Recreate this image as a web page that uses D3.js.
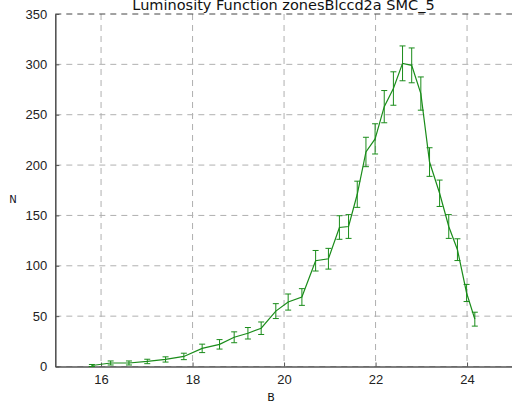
<!DOCTYPE html>
<html>
<head>
<meta charset="utf-8">
<script src="https://cdn.jsdelivr.net/npm/d3@7"></script>
<style>
  body { margin: 0; background: #fff; }
  svg { font-family: "DejaVu Sans", sans-serif; }
</style>
</head>
<body>
<div id="chart"></div>
<script>
// magnitude bins
var mags = [15.80, 16.21, 16.61, 17.01, 17.41, 17.81, 18.21, 18.59, 18.91, 19.21,
            19.50, 19.82, 20.09, 20.39, 20.69, 20.97, 21.21, 21.41, 21.60, 21.79,
            21.99, 22.19, 22.39, 22.59, 22.79, 22.99, 23.18, 23.40, 23.60, 23.79,
            23.99, 24.17];
var counts = [1, 3.5, 3.5, 5, 7, 10, 18, 22, 29, 33,
              38, 55, 64, 69, 105, 107, 138, 139, 171, 213,
              226, 258, 276, 301, 299, 271, 203, 172, 139, 116,
              73, 47];
var errors = [1, 2, 2, 2.2, 2.6, 3.2, 4.2, 4.7, 5.4, 5.7,
              6.2, 7.4, 8, 8.3, 10.2, 10.3, 11.7, 11.8, 13, 14.6,
              15, 16, 16.6, 17.3, 17.3, 16.5, 14.2, 13.1, 11.8, 10.8,
              8.5, 6.9];
var xTicks = [16, 18, 20, 22, 24];
var yTicks = [0, 50, 100, 150, 200, 250, 300, 350];

var W = 512, H = 404;
var margin = {top: 14, right: 0, bottom: 37.5, left: 55.3};
var width = 457.5, height = H - margin.top - margin.bottom;

var svg = d3.select("#chart").append("svg")
    .attr("width", W)
    .attr("height", H);

var g = svg.append("g")
    .attr("transform", "translate(" + margin.left + "," + margin.top + ")");

var x = d3.scaleLinear().domain([15, 25]).range([0, width]);
var y = d3.scaleLinear().domain([0, 350]).range([height, 0]);

// grid
g.selectAll(".vgrid")
    .data(xTicks)
    .enter().append("line")
    .attr("x1", function(d) { return x(d); })
    .attr("x2", function(d) { return x(d); })
    .attr("y1", 0)
    .attr("y2", height)
    .attr("stroke", "#b0b0b0")
    .attr("stroke-dasharray", "6,5");

g.selectAll(".hgrid")
    .data(yTicks)
    .enter().append("line")
    .attr("x1", 0)
    .attr("x2", width)
    .attr("y1", function(d) { return y(d); })
    .attr("y2", function(d) { return y(d); })
    .attr("stroke", function(d) { return d == 350 ? "#444" : "#b0b0b0"; })
    .attr("stroke-dasharray", "6,5");

// axes
var xAxis = d3.axisBottom(x).tickValues(xTicks).tickSizeInner(-4).tickSizeOuter(0).tickPadding(8);
var yAxis = d3.axisLeft(y).tickValues(yTicks).tickSizeInner(-4).tickSizeOuter(0).tickPadding(8);

var gx = g.append("g")
    .attr("transform", "translate(0," + height + ")")
    .call(xAxis);
var gy = g.append("g").call(yAxis);

[gx, gy].forEach(function(a) {
    a.select(".domain").attr("stroke", "#555").attr("stroke-width", 1.6);
    a.selectAll(".tick line").attr("stroke", "#555");
    a.selectAll(".tick text").attr("fill", "#222").style("font-size", "13px");
});

// data
var pts = mags.map(function(m, i) { return {m: m, n: counts[i], e: errors[i]}; });

var line = d3.line()
    .x(function(d) { return x(d.m); })
    .y(function(d) { return y(d.n); });

g.append("path")
    .datum(pts)
    .attr("d", line)
    .attr("fill", "none")
    .attr("stroke", "#1a8c1a")
    .attr("stroke-width", 1.2);

var bars = g.selectAll(".err")
    .data(pts)
    .enter().append("g")
    .attr("stroke", "#1a8c1a")
    .attr("stroke-width", 1);

bars.append("line")
    .attr("x1", function(d) { return x(d.m); })
    .attr("x2", function(d) { return x(d.m); })
    .attr("y1", function(d) { return y(d.n - d.e); })
    .attr("y2", function(d) { return y(d.n + d.e); });
bars.append("line")
    .attr("x1", function(d) { return x(d.m) - 3; })
    .attr("x2", function(d) { return x(d.m) + 3; })
    .attr("y1", function(d) { return y(d.n - d.e); })
    .attr("y2", function(d) { return y(d.n - d.e); });
bars.append("line")
    .attr("x1", function(d) { return x(d.m) - 3; })
    .attr("x2", function(d) { return x(d.m) + 3; })
    .attr("y1", function(d) { return y(d.n + d.e); })
    .attr("y2", function(d) { return y(d.n + d.e); });

// labels
svg.append("text")
    .attr("x", 283.5)
    .attr("y", 10)
    .attr("text-anchor", "middle")
    .style("font-size", "14.5px")
    .attr("fill", "#111")
    .text("Luminosity Function zonesBlccd2a SMC_5");

svg.append("text")
    .attr("x", 271)
    .attr("y", 401)
    .attr("text-anchor", "middle")
    .style("font-size", "11px")
    .attr("fill", "#111")
    .text("B");

svg.append("text")
    .attr("x", 13)
    .attr("y", 203)
    .attr("text-anchor", "middle")
    .style("font-size", "10px")
    .attr("fill", "#112")
    .text("N");
</script>
</body>
</html>
